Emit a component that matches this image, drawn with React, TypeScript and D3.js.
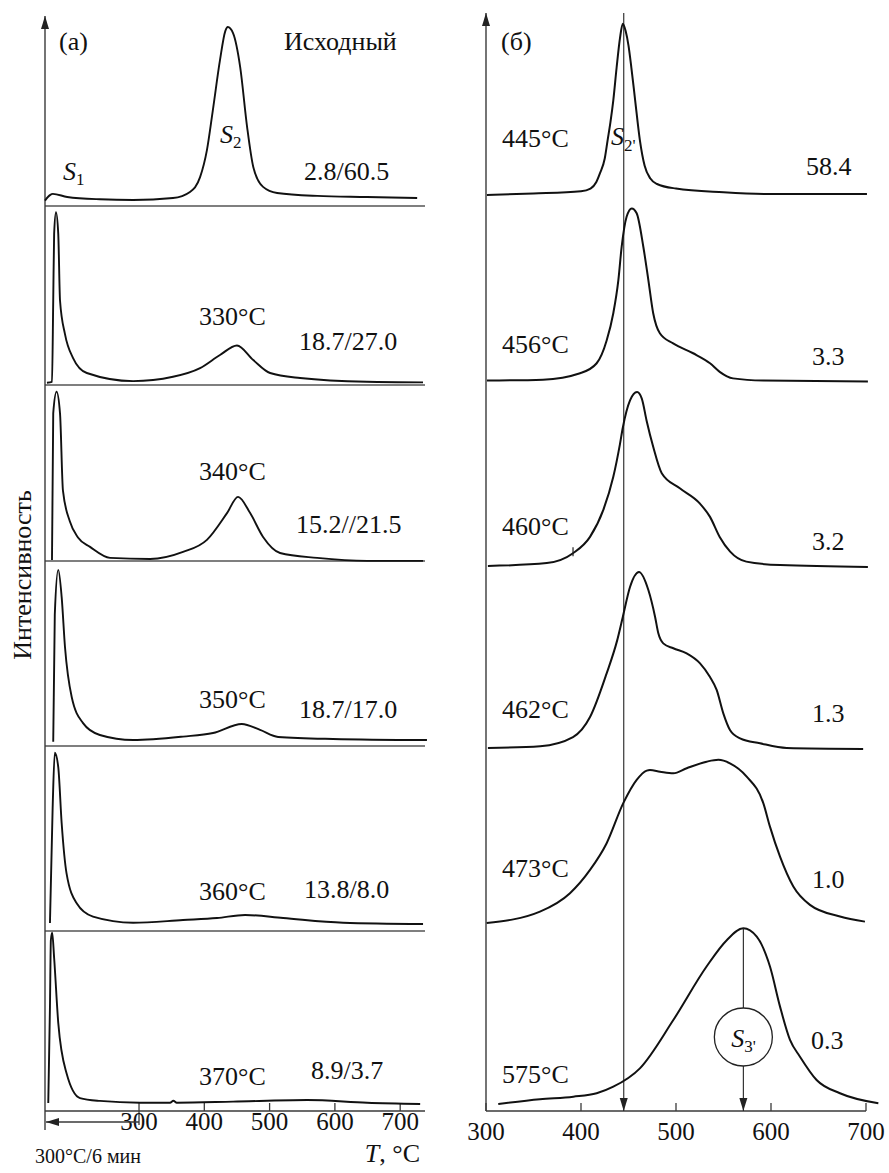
import React from 'react';
import * as d3 from 'd3';

type Pt = [number, number];

// ---------- data ----------
const leftTicks = [300, 400, 500, 600, 700];
const rightTicks = [300, 400, 500, 600, 700];

const leftNames = ['Исходный', '330°C', '340°C', '350°C', '360°C', '370°C'];
const leftRatios = ['2.8/60.5', '18.7/27.0', '15.2//21.5', '18.7/17.0', '13.8/8.0', '8.9/3.7'];
const leftOffsets = [502.8, 403.3, 305.6, 202.8, 100, 0];

const rightNames = ['445°C', '456°C', '460°C', '462°C', '473°C', '575°C'];
const rightYields = ['58.4', '3.3', '3.2', '1.3', '1.0', '0.3'];
const rightOffsets = [499.5, 397.5, 295.6, 195.6, 99.5, 0];

const peakS2 = 445;
const peakS3 = 570.9;

const left0: Pt[] = [[156,3],[163.6,6],[168,6.7],[190,5],[240,3.7],[291,3.3],[352,4.4],[378,7.8],[393.5,16],[404,31],[413,53],[424,81],[432,97],[436,99.4],[444,96],[455,77],[465.5,44],[475,21.7],[490,10.6],[511.5,7.2],[573,5.6],[649,5],[726,4.4]];
const left1: Pt[] = [[159,1.3],[166.7,1.8],[168.6,47],[170,84],[172.8,96],[176.3,84],[179,47],[186.6,28.3],[199,15],[220,6.7],[291,2.2],[352,4.6],[393.5,9.4],[424,16.7],[450,22],[475,13.9],[500.8,6.7],[546.7,3.9],[649,1.8],[735,1.5]];
const left2: Pt[] = [[166.7,0.5],[168.6,82],[173.7,94],[179,82],[183.5,39],[194,22],[206.5,13],[225,7.8],[255.6,1.7],[316.9,1.1],[367.4,5],[404,11.7],[435,26.7],[451.7,35.6],[470,26.7],[490,13.3],[516,4.4],[572.8,1.7],[649.4,0],[735,0]];
const left3: Pt[] = [[168.6,2.4],[171,73],[176.3,97.8],[181.5,82.8],[186.6,55],[196.9,27.2],[214,12.8],[240,6.1],[291,3.3],[367.4,5.2],[413.4,7.2],[457.4,12.2],[485.4,8.9],[513,5],[597,3.9],[741,3.3]];
const left4: Pt[] = [[163.6,4.4],[167.7,68.3],[171,99],[176.3,91],[181.5,60],[189,32],[204.5,15.4],[229.5,8],[291,4.6],[367.4,6.1],[419.5,7.2],[462.5,8.9],[520.7,7.2],[612.6,4.6],[735,3.9]];
const left5: Pt[] = [[161,4.4],[163.6,58],[165,95],[167,99],[170,85],[176.3,49],[189,21],[209.6,7.2],[240,5.6],[301.5,4.6],[347.5,4.6],[352.6,5.7],[357.8,4.6],[444,5.2],[557.5,6.1],[649.4,4.6],[730.6,3.9]];
const leftCurves = [left0, left1, left2, left3, left4, left5];

const right0: Pt[] = [[301,0],[350,0.8],[400,2],[410,3.5],[416,7],[420,12],[425,20],[428,30],[431,40],[434,52],[437.5,70],[441,86],[444,94],[447,90],[450,82],[453,70],[457,52],[462,30],[467,16],[473,9],[480,6],[500,3.5],[550,1.5],[600,0.5],[701,0.5]];
const right1: Pt[] = [[301,0],[360,0.5],[399,4],[416.5,9.5],[427,22],[434,37],[439.3,55],[442.8,73.5],[448,90],[453.4,94.6],[458.6,91.9],[465.6,73.5],[470.9,55.2],[476,37],[483,26],[497,20.4],[518,15],[535.8,9.5],[546,4.8],[560,1.2],[592,0],[702,-0.5]];
const right2: Pt[] = [[302,0],[364,1.6],[391.6,7],[409.5,16],[423.5,30.8],[434,49],[441,67],[444,76],[451.6,91],[459,95.6],[464,92],[469,80],[476,65.5],[485,51],[504,42.7],[525,34.4],[535.8,27],[546,16],[557,7.9],[574,2.4],[609.5,0.5],[702,-0.5]];
const right3: Pt[] = [[302,0],[357,1],[391.6,6],[409.5,17],[427,41],[438,59],[444,72],[451.6,88.5],[461,96.7],[470.9,86.8],[478,72],[481.4,63],[486.6,57.5],[497.2,54.8],[511.2,52],[525.3,46.5],[535.8,39],[542.8,31.9],[549.8,19],[556.8,9.9],[567.4,5.3],[588.4,2.6],[616.5,0],[697,-0.5]];
const right4: Pt[] = [[300.7,0],[356.8,6.2],[388.4,16.3],[409.5,29.1],[427,43.8],[444.5,65.8],[458.6,78.6],[469.2,83.7],[472.6,84],[483.2,83.1],[497.2,82.2],[511.3,85],[532.3,88.6],[544.6,89.6],[556.8,87.7],[574.4,80.4],[591.9,65.8],[598.9,52.9],[609.5,36.4],[623.5,20],[641,9.9],[672.6,3.5],[698.9,0.7]];
const right5: Pt[] = [[312.9,0],[356.8,2.6],[391.9,4],[416.5,5.9],[434,9.5],[462,19.6],[497,46],[532,75.4],[553.4,90],[570.9,96.5],[585,91.9],[599,75.4],[609.5,53.5],[620,35.2],[630.5,26],[648,13.2],[672.6,5.9],[713,0.4]];
const rightCurves = [right0, right1, right2, right3, right4, right5];

// ---------- layout ----------
const W = 889, H = 1173;
const FONT = '"Liberation Serif", "Times New Roman", serif';
const FS = 26;
const TICK_FS = 25;

const leftNamePos: Pt[] = [[284, 50], [199, 325], [199, 480], [199, 708], [199, 900], [199, 1085]];
const leftRatioPos: Pt[] = [[304, 180], [299, 350], [296, 533], [299, 718], [304, 898], [311, 1079]];
const rightNamePos: Pt[] = [[502, 147], [502, 353], [502, 535], [502, 718], [502, 877], [502, 1083]];
const rightYieldPos: Pt[] = [[806, 175], [812, 365], [812, 550], [812, 722], [812, 888], [811, 1049]];

export default function App() {
  const xL = d3.scaleLinear().domain([156, 738]).range([45, 425]);
  const yL = d3.scaleLinear().domain([0, 600]).range([1111, 31]);
  const xR = d3.scaleLinear().domain([300, 700]).range([486, 866]);
  const yR = d3.scaleLinear().domain([0, 600]).range([1104, 12]);

  const axisY = 1111;
  const axisColor = '#3a3a3a';
  const curveColor = '#111';

  const lineL = (off: number) =>
    d3.line<Pt>().x(d => xL(d[0])).y(d => yL(d[1] + off)).curve(d3.curveMonotoneX);
  const lineR = (off: number) =>
    d3.line<Pt>().x(d => xR(d[0])).y(d => yR(d[1] + off)).curve(d3.curveMonotoneX);

  const s3PeakY = yR(96.5);
  const s3CircleY = 1037;

  // little tick mark on 460 °C curve
  const tickT = 391.6;
  const tickY = yR(7 + rightOffsets[2]);

  return (
    <svg width={W} height={H} style={{ position: 'absolute', left: 0, top: 0, background: '#fff' }}
      fontFamily={FONT} fontSize={FS} fill="#111">
      <defs>
        <marker id="arr" viewBox="0 0 13 10" refX="13" refY="5" markerWidth="13" markerHeight="10"
          markerUnits="userSpaceOnUse" orient="auto">
          <path d="M0,1 L13,5 L0,9 Z" fill="#222" />
        </marker>
      </defs>
      <rect x={0} y={0} width={W} height={H} fill="#fff" />

      {/* ===== LEFT PANEL ===== */}
      {leftOffsets.slice(0, 5).map((o, i) => (
        <line key={'sep' + i} x1={xL(156)} x2={425} y1={yL(o)} y2={yL(o)} stroke="#555" strokeWidth={1.5} />
      ))}
      <line x1={45} x2={45} y1={1130} y2={16} stroke={axisColor} strokeWidth={1.4} markerEnd="url(#arr)" />
      <line x1={45} x2={425} y1={axisY} y2={axisY} stroke={axisColor} strokeWidth={1.5} />
      {leftTicks.map(t => (
        <g key={'lt' + t}>
          <line x1={xL(t)} x2={xL(t)} y1={axisY - 8} y2={t === 300 ? axisY + 14 : axisY} stroke={axisColor} strokeWidth={1.3} />
          <text x={xL(t)} y={1130} textAnchor="middle" fontSize={TICK_FS}>{t}</text>
        </g>
      ))}
      <line x1={xL(300)} x2={46} y1={1122} y2={1122} stroke={axisColor} strokeWidth={1.3} markerEnd="url(#arr)" />
      <text x={35} y={1163} fontSize={20}>300°C/6 мин</text>
      <text x={420} y={1162} textAnchor="end"><tspan fontStyle="italic">T</tspan>, °C</text>

      {leftCurves.map((c, i) => (
        <path key={'lc' + i} d={lineL(leftOffsets[i])(c) || ''} fill="none" stroke={curveColor} strokeWidth={1.9} strokeLinejoin="round" />
      ))}
      {leftNames.map((n, i) => (
        <text key={'ln' + i} x={leftNamePos[i][0]} y={leftNamePos[i][1]}>{n}</text>
      ))}
      {leftRatios.map((n, i) => (
        <text key={'lr' + i} x={leftRatioPos[i][0]} y={leftRatioPos[i][1]}>{n}</text>
      ))}
      <text x={59} y={50}>(а)</text>
      <text x={63} y={180}><tspan fontStyle="italic">S</tspan><tspan fontSize={17} dy={5}>1</tspan></text>
      <text x={220} y={143}><tspan fontStyle="italic">S</tspan><tspan fontSize={17} dy={5}>2</tspan></text>
      <text transform="translate(31,575) rotate(-90)" textAnchor="middle">Интенсивность</text>

      {/* ===== RIGHT PANEL ===== */}
      <line x1={xR(300)} x2={xR(300)} y1={axisY} y2={13} stroke={axisColor} strokeWidth={1.4} markerEnd="url(#arr)" />
      <line x1={xR(300)} x2={xR(700)} y1={axisY} y2={axisY} stroke={axisColor} strokeWidth={1.5} />
      {rightTicks.map(t => (
        <g key={'rt' + t}>
          <line x1={xR(t)} x2={xR(t)} y1={axisY - 8} y2={axisY} stroke={axisColor} strokeWidth={1.3} />
          <text x={xR(t)} y={1140} textAnchor="middle" fontSize={TICK_FS}>{t}</text>
        </g>
      ))}

      <line x1={xR(peakS2)} x2={xR(peakS2)} y1={13} y2={axisY} stroke="#222" strokeWidth={1.1} markerEnd="url(#arr)" />

      {rightCurves.map((c, i) => (
        <path key={'rc' + i} d={lineR(rightOffsets[i])(c) || ''} fill="none" stroke={curveColor} strokeWidth={2} strokeLinejoin="round" />
      ))}
      <line x1={xR(tickT)} x2={xR(tickT)} y1={tickY - 6} y2={tickY + 3} stroke="#222" strokeWidth={1.2} />

      <line x1={xR(peakS3)} x2={xR(peakS3)} y1={s3PeakY} y2={axisY} stroke="#222" strokeWidth={1.1} markerEnd="url(#arr)" />
      <circle cx={xR(peakS3)} cy={s3CircleY} r={29} fill="#fff" stroke="#222" strokeWidth={1.3} />
      <text x={xR(peakS3) - 12} y={s3CircleY + 10}><tspan fontStyle="italic">S</tspan><tspan fontSize={17} dy={5}>3'</tspan></text>

      <text x={611} y={145}><tspan fontStyle="italic">S</tspan><tspan fontSize={17} dy={6}>2'</tspan></text>

      {rightNames.map((n, i) => (
        <text key={'rn' + i} x={rightNamePos[i][0]} y={rightNamePos[i][1]}>{n}</text>
      ))}
      {rightYields.map((n, i) => (
        <text key={'ry' + i} x={rightYieldPos[i][0]} y={rightYieldPos[i][1]}>{n}</text>
      ))}
      <text x={501} y={50}>(б)</text>
    </svg>
  );
}
